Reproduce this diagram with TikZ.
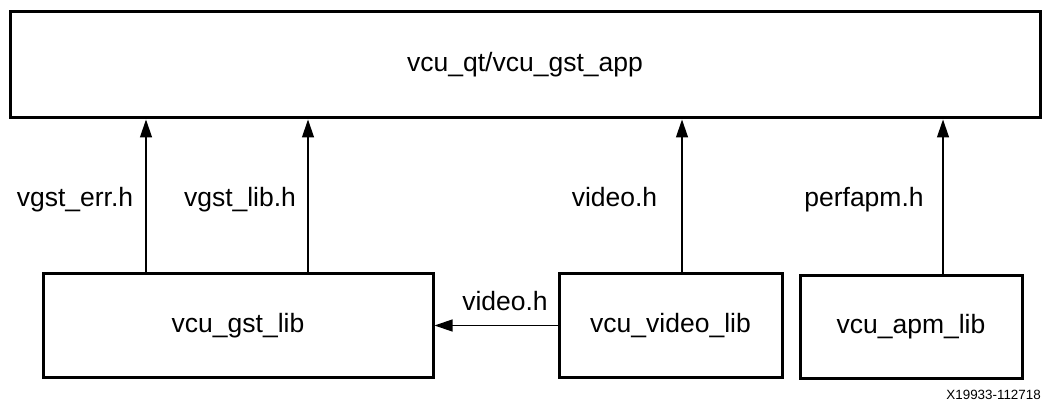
\documentclass[tikz,border=0pt]{standalone}
\usepackage{fontspec}
\setmainfont{Liberation Sans}
\usetikzlibrary{arrows.meta}
\begin{document}
\begin{tikzpicture}[x=1pt,y=-1pt,
  box/.style={draw,line width=3pt,inner sep=0pt},
  conn/.style={line width=1.3pt,-{Triangle[length=18pt,width=12pt]}},
  lbl/.style={font=\fontsize{26.5}{30}\selectfont,inner sep=0pt,anchor=base}]
\useasboundingbox (0,0) rectangle (1044,403);
\path[fill=white] (0,0) rectangle (1044,403);
\node[box,minimum width=1030pt,minimum height=106pt] (app) at (525,65) {};
\node[lbl] (apptxt) at (525,72) {vcu\_qt/vcu\_gst\_app};
\node[box,minimum width=390pt,minimum height=103pt] (gst) at (238,325.5) {};
\node[lbl] (gsttxt) at (238,333) {vcu\_gst\_lib};
\node[box,minimum width=223pt,minimum height=103pt] (vid) at (670.5,325.5) {};
\node[lbl] (vidtxt) at (670.5,333) {vcu\_video\_lib};
\node[box,minimum width=222pt,minimum height=102pt] (apm) at (911,327) {};
\node[lbl] (apmtxt) at (911,334) {vcu\_apm\_lib};
\coordinate (g1) at (146,274);
\coordinate (g2) at (308,274);
\coordinate (v1) at (682,274);
\coordinate (a1) at (943,276);
\draw[conn] (g1) -- (g1 |- app.south);
\draw[conn] (g2) -- (g2 |- app.south);
\draw[conn] (v1) -- (v1 |- app.south);
\draw[conn] (a1) -- (a1 |- app.south);
\draw[conn] (vid.west) -- (gst.east);
\node[lbl] (l1) at (75,207) {vgst\_err.h};
\node[lbl] (l2) at (240,207) {vgst\_lib.h};
\node[lbl] (l3) at (614.5,207) {video.h};
\node[lbl] (l4) at (864,207) {perfapm.h};
\node[lbl] (l5) at (505,310) {video.h};
\node[font=\fontsize{13.4}{15}\selectfont,inner sep=0pt,anchor=east] (id) at (1041,395) {X19933-112718};
\end{tikzpicture}
\end{document}
